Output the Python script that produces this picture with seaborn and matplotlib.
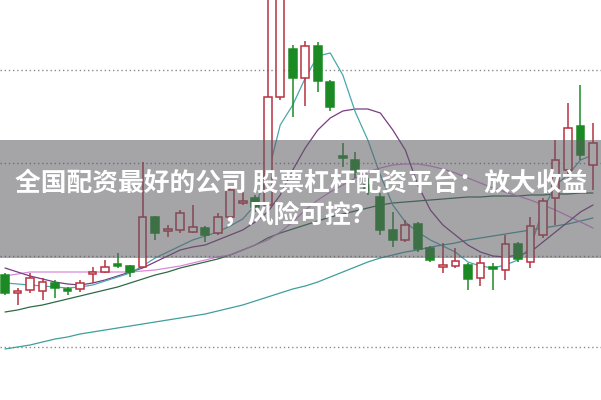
import numpy as np
import pandas as pd
import matplotlib
matplotlib.use("Agg")
import matplotlib.pyplot as plt
import seaborn as sns

# ---- data (price units; higher = up) ----
opens  = [125,107,110,109,117,111,111,126,128,136,134,133,183,169,170,168,172,167,183,197,202,195,303,351,322,354,318,244,240,215,203,170,160,176,152,133,134,135,122,133,130,156,138,165,202,230,274,235]
closes = [107,109,122,118,112,109,117,128,133,134,128,183,167,171,187,173,165,183,210,199,193,303,420,322,354,319,293,242,228,210,170,160,175,151,140,135,139,121,137,131,156,141,174,199,240,272,245,257]
highs  = [127,112,127,122,120,113,120,133,140,147,135,238,184,175,190,195,174,187,213,212,205,430,430,355,359,358,320,257,248,222,207,188,180,178,154,157,152,137,145,137,165,158,183,202,260,297,315,277]
lows   = [105,95,107,100,102,105,108,117,127,132,123,132,160,163,167,167,158,165,182,195,188,190,300,283,294,308,289,233,222,205,165,153,158,148,138,127,132,110,114,110,120,138,132,162,175,222,240,210]

ma_short = [117,116,115,114,113,112,113,115,119,123,127,134,142,148,154,160,164,168,174,181,195,225,275,295,322,344,347,325,288,260,225,195,178,168,160,154,148,138,134,132,135,140,153,190,215,225,240,245]
ma_mid   = [132,128,124,121,118,116,115,117,120,124,128,132,138,144,150,153,155,160,165,170,178,188,205,230,252,270,282,289,291,291,287,270,250,215,190,175,165,155,148,144,143,145,148,158,168,178,188,195]
ma_pink  = [124,126,128,128,128,128,128,128,128,128,128,129,130,132,134,137,140,143,145,150,155,160,168,178,190,200,208,215,222,228,232,235,236,236,234,231,227,222,217,212,208,204,200,195,190,184,178,172]
ma_green = [88,90,93,95,98,101,104,107,110,113,117,121,125,128,132,135,138,141,145,150,155,162,167,171,175,179,183,186,189,192,195,197,198,199,200,201,202,203,203,204,204,204,205,205,206,206,207,207]
ma_long  = [51,53,55,58,61,63,66,68,70,72,74,76,78,80,82,84,86,89,92,95,99,103,107,111,114,118,123,128,133,138,142,145,148,150,153,155,157,160,162,164,166,168,170,172,174,176,179,182]

title_line1 = "全国配资最好的公司 股票杠杆配资平台：放大收益"
title_line2 = "，风险可控？"
grid_levels = [330, 237, 144, 53]

sns.set_theme(style="white")
plt.rcParams['font.family'] = ['Noto Sans CJK SC', 'DejaVu Sans']

n = len(opens)
idx = np.arange(n)
df = pd.DataFrame({"i": idx, "o": opens, "c": closes, "h": highs, "l": lows})

fig = plt.figure(figsize=(6.01, 4.00), dpi=100)
ax = fig.add_axes([0, 0, 1, 1])
ax.set_xlim(-0.4, 47.64)
ax.set_ylim(0, 400)
ax.axis("off")

for g in grid_levels:
    ax.axhline(g, color="#8a8a8a", lw=1.0, ls=(0, (1, 2)), zorder=1)

ma_df = pd.DataFrame({"i": idx, "short": ma_short, "mid": ma_mid, "pink": ma_pink,
                      "green": ma_green, "long": ma_long})
line_specs = [("long", "#3f9f9a"), ("green", "#2f6a45"), ("pink", "#d98ad9"),
              ("mid", "#7a3b83"), ("short", "#4aa6ad")]
for col, colr in line_specs:
    sns.lineplot(data=ma_df, x="i", y=col, ax=ax, color=colr, lw=0.9, zorder=2,
                 legend=False)
ax.set_xlim(-0.4, 47.64)
ax.set_ylim(0, 400)
ax.axis("off")

red = "#b8323e"
green = "#1b8a24"
w = 0.62
for _, r in df.iterrows():
    up = r.c >= r.o
    col = red if up else green
    ax.vlines(r.i, r.l, r.h, color=col, lw=1.1, zorder=3)
    bottom = min(r.o, r.c)
    hgt = max(abs(r.c - r.o), 1.5)
    if up:
        ax.bar(r.i, hgt, bottom=bottom, width=w, facecolor="white", edgecolor=col,
               lw=1.1, zorder=4)
    else:
        ax.bar(r.i, hgt, bottom=bottom, width=w, facecolor=col, edgecolor=col,
               lw=1.1, zorder=4)

# banner
ax.axhspan(142, 260, color="#5b5b62", alpha=0.55, lw=0, zorder=5)

fig.text(0.501, 1 - 183 / 400, title_line1, ha="center", va="center", color="white",
         fontsize=18.5, fontweight="bold", zorder=6)
fig.text(0.499, 1 - 215 / 400, title_line2, ha="center", va="center", color="white",
         fontsize=18.5, fontweight="bold", zorder=6)

fig.savefig("out.png", dpi=100)
